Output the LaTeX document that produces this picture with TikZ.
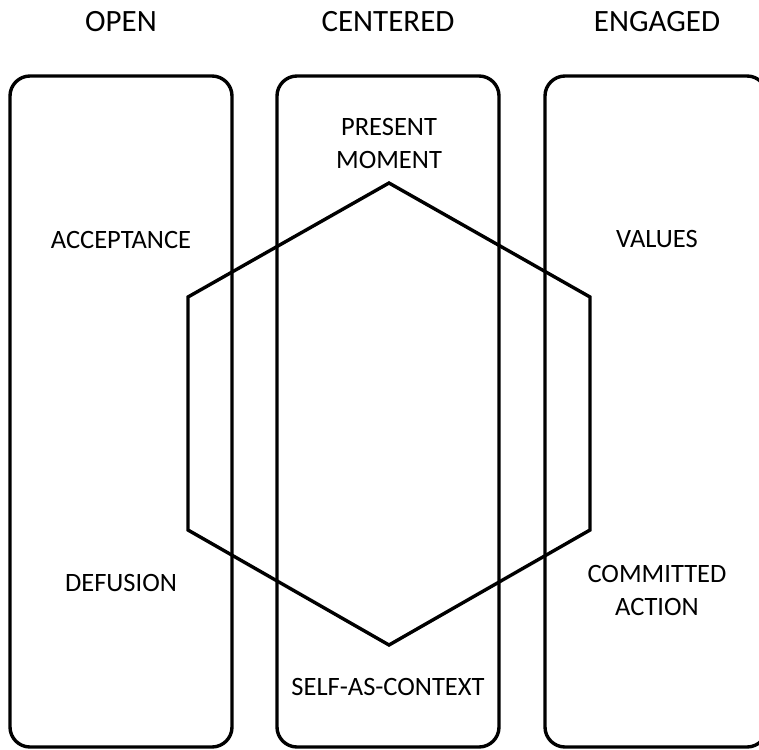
\documentclass[tikz,border=0pt]{standalone}
\usepackage{fontspec}
\setmainfont{Carlito}
\begin{document}
\begin{tikzpicture}
[x=1pt,y=-1pt,line width=3.4pt,
every node/.style={font=\fontsize{26.5}{33}\selectfont,align=center},
title/.style={font=\fontsize{31}{36}\selectfont}]
\useasboundingbox (0,0) rectangle (759,749);
% columns
\foreach \x in {10,277,545}
\draw[rounded corners=20pt] (\x,76) rectangle ++(222,671);
\node[title] (open) at (121,22) {OPEN};
\node[title] (centered) at (388,22) {CENTERED};
\node[title] (engaged) at (657,22) {ENGAGED};
% hexagon
\coordinate (h1) at (389,183);
\coordinate (h2) at (188,297);
\coordinate (h3) at (188,530);
\coordinate (h4) at (389,645);
\coordinate (h5) at (590,530);
\coordinate (h6) at (590,297);
\draw (h1) -- (h2) -- (h3) -- (h4) -- (h5) -- (h6) -- cycle;
% processes
\node (acc) at (121,240) {ACCEPTANCE};
\node (def) at (121,583) {DEFUSION};
\node (pm) at (389,143) {PRESENT\\MOMENT};
\node (sac) at (388,687) {SELF-AS-CONTEXT};
\node (val) at (657,239) {VALUES};
\node (ca) at (657,590) {COMMITTED\\ACTION};
\end{tikzpicture}
\end{document}
